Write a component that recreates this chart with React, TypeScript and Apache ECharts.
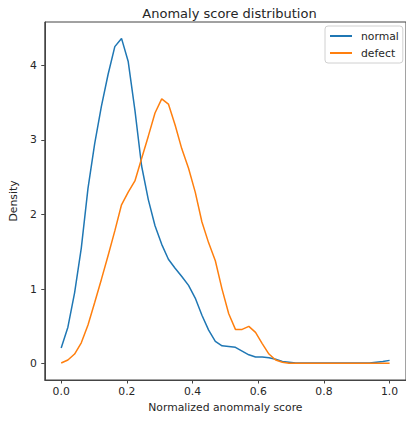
import React, { useEffect, useRef } from "react";
import * as echarts from "echarts";

const scores = [
  0, 0.0204, 0.0408, 0.0612, 0.0816, 0.102, 0.1224, 0.1429, 0.1633, 0.1837,
  0.2041, 0.2245, 0.2449, 0.2653, 0.2857, 0.3061, 0.3265, 0.3469, 0.3673, 0.3878,
  0.4082, 0.4286, 0.449, 0.4694, 0.4898, 0.5102, 0.5306, 0.551, 0.5714, 0.5918,
  0.6122, 0.6327, 0.6531, 0.6735, 0.6939, 0.7143, 0.7347, 0.7551, 0.7755, 0.7959,
  0.8163, 0.8367, 0.8571, 0.8776, 0.898, 0.9184, 0.9388, 0.9592, 0.9796, 1.0,
];

const normalDensity = [
  0.21, 0.49, 0.95, 1.55, 2.35, 2.95, 3.45, 3.88, 4.25, 4.36,
  4.05, 3.4, 2.65, 2.2, 1.85, 1.6, 1.4, 1.28, 1.17, 1.05,
  0.88, 0.65, 0.45, 0.3, 0.24, 0.23, 0.22, 0.17, 0.12, 0.09,
  0.09, 0.08, 0.06, 0.03, 0.02, 0.01, 0.01, 0.01, 0.01, 0.01,
  0.01, 0.01, 0.01, 0.01, 0.01, 0.01, 0.01, 0.02, 0.03, 0.045,
];

const defectDensity = [
  0.01, 0.05, 0.13, 0.28, 0.52, 0.82, 1.13, 1.45, 1.78, 2.13,
  2.3, 2.45, 2.75, 3.05, 3.36, 3.55, 3.48, 3.2, 2.88, 2.62,
  2.3, 1.9, 1.62, 1.38, 1.0, 0.67, 0.46, 0.46, 0.5, 0.42,
  0.27, 0.13, 0.05, 0.02, 0.005, 0.005, 0.005, 0.005, 0.005, 0.005,
  0.005, 0.005, 0.005, 0.005, 0.005, 0.005, 0.005, 0.005, 0.005, 0.005,
];

const xTicks = [0, 0.2, 0.4, 0.6, 0.8, 1.0];
const yTicks = [0, 1, 2, 3, 4];

const FONT = "DejaVu Sans";
const AXIS_COLOR = "#444";
const TEXT_COLOR = "#262626";
const FS = 10.8;

export default function App() {
  const ref = useRef<HTMLDivElement>(null);

  useEffect(() => {
    document.body.style.margin = "0";
    if (!ref.current) return;
    const chart = echarts.init(ref.current, undefined, { renderer: "svg" });
    const pairs = (ys: number[]) => scores.map((x, i) => [x, ys[i]]);
    chart.setOption({
      animation: false,
      backgroundColor: "#fff",
      title: {
        text: "Anomaly score distribution",
        left: 224.5,
        textAlign: "center",
        top: 2,
        textStyle: { fontFamily: FONT, fontSize: 13, fontWeight: "normal", color: TEXT_COLOR },
      },
      legend: {
        left: 325,
        top: 26,
        orient: "vertical",
        padding: [3, 4, 3, 5],
        itemGap: 3,
        itemWidth: 22,
        itemHeight: 2,
        icon: "rect",
        borderColor: "#d0d0d0",
        borderWidth: 1,
        borderRadius: 3,
        backgroundColor: "rgba(255,255,255,0.8)",
        textStyle: {
          fontFamily: FONT,
          fontSize: FS,
          color: TEXT_COLOR,
          lineHeight: 14,
          padding: [0, 0, 0, 4],
        },
        data: ["normal", "defect"],
      },
      grid: {
        left: 41,
        top: 22,
        right: -3,
        bottom: 41,
        show: true,
        borderColor: AXIS_COLOR,
        borderWidth: 1,
        backgroundColor: "transparent",
      },
      xAxis: {
        type: "value",
        min: -0.05,
        max: 1.05,
        name: "Normalized anommaly score",
        nameLocation: "middle",
        nameGap: 22,
        nameTextStyle: { fontFamily: FONT, fontSize: FS, color: TEXT_COLOR },
        axisLine: { show: true, onZero: false, lineStyle: { color: AXIS_COLOR, width: 1 } },
        axisTick: {
          show: true,
          length: 3.5,
          inside: false,
          customValues: xTicks,
          lineStyle: { color: AXIS_COLOR },
        },
        axisLabel: {
          customValues: xTicks,
          margin: 6,
          fontFamily: FONT,
          fontSize: FS,
          color: TEXT_COLOR,
          formatter: (v: number) => v.toFixed(1),
        },
        splitLine: { show: false },
      },
      yAxis: {
        type: "value",
        min: -0.218,
        max: 4.58,
        name: "Density",
        nameLocation: "middle",
        nameGap: 22,
        nameRotate: 90,
        nameTextStyle: { fontFamily: FONT, fontSize: FS, color: TEXT_COLOR },
        axisLine: { show: true, onZero: false, lineStyle: { color: AXIS_COLOR, width: 1 } },
        axisTick: {
          show: true,
          length: 3.5,
          inside: false,
          customValues: yTicks,
          lineStyle: { color: AXIS_COLOR },
        },
        axisLabel: {
          customValues: yTicks,
          margin: 8,
          fontFamily: FONT,
          fontSize: FS,
          color: TEXT_COLOR,
          formatter: (v: number) => String(Math.round(v)),
        },
        splitLine: { show: false },
      },
      series: [
        {
          name: "normal",
          type: "line",
          data: pairs(normalDensity),
          showSymbol: false,
          symbol: "none",
          color: "#1f77b4",
          lineStyle: { color: "#1f77b4", width: 1.5 },
          z: 2,
        },
        {
          name: "defect",
          type: "line",
          data: pairs(defectDensity),
          showSymbol: false,
          symbol: "none",
          color: "#ff7f0e",
          lineStyle: { color: "#ff7f0e", width: 1.5 },
          z: 3,
        },
      ],
    });
    return () => chart.dispose();
  }, []);

  return <div ref={ref} style={{ width: 406, height: 421 }} />;
}
